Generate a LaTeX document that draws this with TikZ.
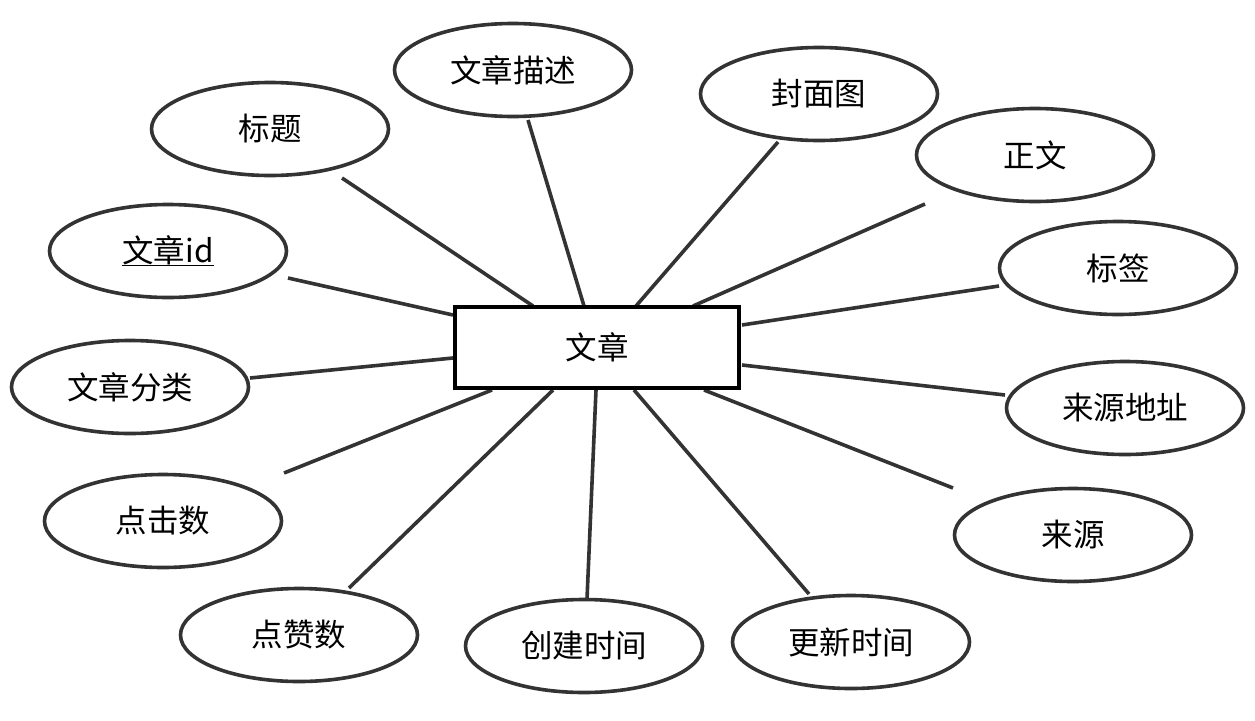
\documentclass[tikz,border=0pt]{standalone}
\usepackage{fontspec}
\setmainfont{Noto Sans CJK SC}
\usetikzlibrary{shapes.geometric}
\definecolor{ln}{HTML}{333333}
\newcommand\myul[1]{\setbox0\hbox{#1}\rlap{\raisebox{-4pt}{\rule{\wd0}{1.8pt}}}\box0}
\begin{document}
\begin{tikzpicture}[x=1pt,y=-1pt,
  attr/.style={ellipse, draw=ln, fill=white, line width=3.6pt, minimum width=237pt, minimum height=93pt, inner sep=0pt, font=\fontsize{31.5}{36}\selectfont},
  ent/.style={rectangle, draw=black, fill=white, line width=4.8pt, minimum width=284pt, minimum height=81pt, inner sep=0pt, font=\fontsize{31.5}{36}\selectfont},
  conn/.style={draw=ln, line width=3.6pt}]
\useasboundingbox[fill=white] (0,0) rectangle (1255,720);

% connector end points
\coordinate (a1) at (342,178);  \coordinate (b1) at (533,306);
\coordinate (a2) at (528,120);  \coordinate (b2) at (584,306);
\coordinate (a3) at (778,142);  \coordinate (b3) at (636,306);
\coordinate (a4) at (925,204);  \coordinate (b4) at (693,306);
\coordinate (a5) at (288,278);  \coordinate (b5) at (453,315);
\coordinate (a6) at (999,286);  \coordinate (b6) at (742,325);
\coordinate (a7) at (250,378);  \coordinate (b7) at (453,358);
\coordinate (a8) at (1005,395); \coordinate (b8) at (742,365);
\coordinate (a9) at (284,473);  \coordinate (b9) at (492,390);
\coordinate (a10) at (953,488); \coordinate (b10) at (704,390);
\coordinate (a11) at (349,588); \coordinate (b11) at (553,390);
\coordinate (a12) at (587,599); \coordinate (b12) at (596,390);
\coordinate (a13) at (809,594); \coordinate (b13) at (634,390);

\foreach \i in {1,...,13} \draw[conn] (a\i) -- (b\i);

\node[ent] (E) at (597,347.5) {文章};

\node[attr] (e1) at (270,129) {标题};
\node[attr] (e2) at (513,70) {文章描述};
\node[attr] (e3) at (819,94) {封面图};
\node[attr] (e4) at (1035,155) {正文};
\node[attr] (e5) at (168,251) {\myul{文章id}};
\node[attr] (e6) at (1118,268) {标签};
\node[attr] (e7) at (130,387) {文章分类};
\node[attr] (e8) at (1125,408) {来源地址};
\node[attr] (e9) at (163,521) {点击数};
\node[attr] (e10) at (1073,535) {来源};
\node[attr] (e11) at (299,635) {点赞数};
\node[attr] (e12) at (584,646) {创建时间};
\node[attr] (e13) at (851,642) {更新时间};
\end{tikzpicture}
\end{document}
